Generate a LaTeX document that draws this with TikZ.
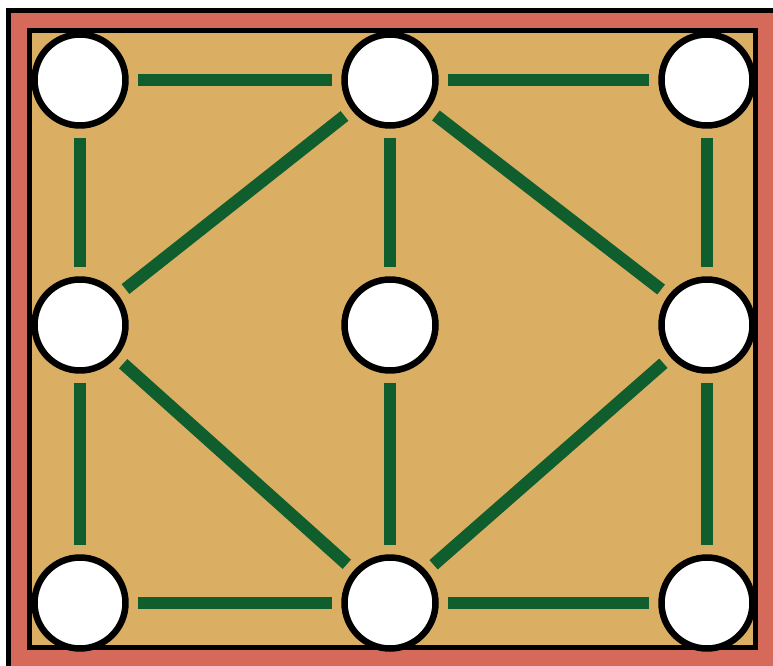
\documentclass[tikz,border=0pt]{standalone}
\usetikzlibrary{positioning}
\definecolor{BoardTan}{RGB}{218,175,99}
\definecolor{BoardRed}{RGB}{214,106,90}
\definecolor{BoardGreen}{RGB}{16,94,46}

\begin{document}
\begin{tikzpicture}[
  x=0.02cm,y=-0.02cm,
  spot/.style={circle,draw=black,line width=0.13cm,fill=white,minimum size=1.82cm,inner sep=0pt,outer sep=0pt},
  ln/.style={draw=BoardGreen,line width=0.25cm,shorten <=0.25cm,shorten >=0.25cm},
]
\useasboundingbox (0,0) rectangle (773,665);
\clip (0,0) rectangle (773,665);
% frame: black, red band, black, then the board
\fill[black] (6,8) rectangle (779,671);
\fill[BoardRed] (11,13) rectangle (774,666);
\fill[black] (27,28) rectangle (758,650);
\fill[BoardTan] (32,33) rectangle (753,645);

\node[spot] (tl) at (80,80) {};
\node[spot] (tm) at (390,80) {};
\node[spot] (tr) at (707,80) {};
\node[spot] (ml) at (80,325) {};
\node[spot] (mm) at (390,325) {};
\node[spot] (mr) at (707,325) {};
\node[spot] (bl) at (80,603) {};
\node[spot] (bm) at (390,603) {};
\node[spot] (br) at (707,603) {};

\draw[ln] (tl) -- (tm); \draw[ln] (tm) -- (tr);
\draw[ln] (bl) -- (bm); \draw[ln] (bm) -- (br);
\draw[ln] (tl) -- (ml); \draw[ln] (ml) -- (bl);
\draw[ln] (tr) -- (mr); \draw[ln] (mr) -- (br);
\draw[ln] (tm) -- (mm); \draw[ln] (mm) -- (bm);
\draw[ln] (tm) -- (ml); \draw[ln] (tm) -- (mr);
\draw[ln] (ml) -- (bm); \draw[ln] (mr) -- (bm);
\end{tikzpicture}
\end{document}
